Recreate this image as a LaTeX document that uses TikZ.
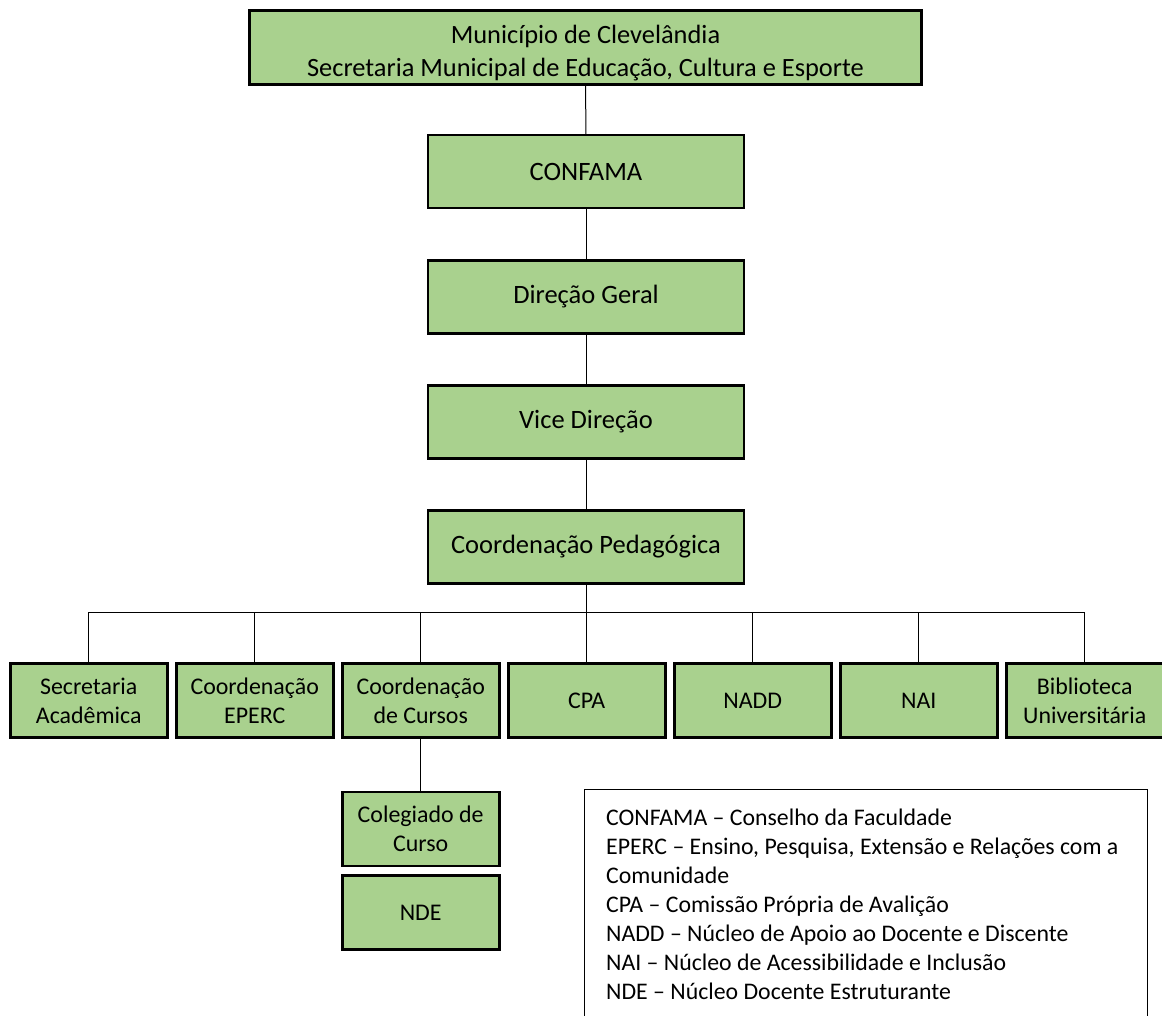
\documentclass[tikz,border=0pt]{standalone}
\usepackage{fontspec}
\setmainfont{Carlito}
\definecolor{boxgreen}{HTML}{A9D18E}
\begin{document}
\begin{tikzpicture}[x=1pt,y=-1pt,
  gbox/.style={draw=black, line width=2.6pt, fill=boxgreen, inner sep=0pt, outer sep=0pt, align=center, text=black},
  topbox/.style={gbox, minimum width=672, minimum height=74, font={\fontsize{26.4}{33.5}\selectfont}},
  midbox/.style={gbox, minimum width=316, minimum height=73, font={\fontsize{26.5}{29}\selectfont}},
  rowbox/.style={gbox, minimum width=157, minimum height=74, font={\fontsize{23.9}{29}\selectfont}},
  conn/.style={draw=black, line width=1pt},
  legbox/.style={draw=black, line width=1pt, fill=white, inner sep=0pt, outer sep=0pt, minimum width=563, minimum height=260},
  legtext/.style={align=left, inner sep=0pt, font={\fontsize{23.8}{29}\selectfont}, text=black}
]
\useasboundingbox (0,0) rectangle (1162,1015);
\fill[white] (0,0) rectangle (1162,1015);

\node[topbox] (top) at (585.5,47.5) {\rule{0pt}{29pt}Município de Clevelândia\\Secretaria Municipal de Educação, Cultura e Esporte};
\node[midbox] (conf) at (586,171.5) {CONFAMA};
\node[midbox] (dg) at (586,297) {Direção Geral};
\node[midbox] (vd) at (586,422) {Vice Direção};
\node[midbox] (cp) at (586,547) {Coordenação Pedagógica};

\node[rowbox] (b1) at (88.7,700.5) {Secretaria\\Acadêmica};
\node[rowbox] (b2) at (254.7,700.5) {Coordenação\\EPERC};
\node[rowbox] (b3) at (420.7,700.5) {Coordenação\\de Cursos};
\node[rowbox] (b4) at (586.7,700.5) {CPA};
\node[rowbox] (b5) at (752.7,700.5) {NADD};
\node[rowbox] (b6) at (918.7,700.5) {NAI};
\node[rowbox] (b7) at (1084.7,700.5) {Biblioteca\\Universitária};

\node[rowbox] (cc) at (420.7,829) {Colegiado de\\Curso};
\node[rowbox] (nde) at (420.7,912.5) {NDE};

\coordinate (bus) at (586,612);

\draw[conn] (top.south) -- (conf.north);
\draw[conn] (conf.south) -- (dg.north);
\draw[conn] (dg.south) -- (vd.north);
\draw[conn] (vd.south) -- (cp.north);
\draw[conn] (cp.south) -- (bus);
\draw[conn] (b1.north |- bus) -- (b7.north |- bus);
\foreach \b in {b1,b2,b3,b4,b5,b6,b7}{
  \draw[conn] (\b.north) -- (\b.north |- bus);
}
\draw[conn] (b3.south) -- (cc.north);

\node[legbox, anchor=north west] (leg) at (584,789.5) {};
\node[legtext, anchor=north west] (legt) at ([xshift=22pt,yshift=-19.5pt]leg.north west) {CONFAMA – Conselho da Faculdade\\EPERC – Ensino, Pesquisa, Extensão e Relações com a\\Comunidade\\CPA – Comissão Própria de Avalição\\NADD – Núcleo de Apoio ao Docente e Discente\\NAI – Núcleo de Acessibilidade e Inclusão\\NDE – Núcleo Docente Estruturante};
\end{tikzpicture}
\end{document}
